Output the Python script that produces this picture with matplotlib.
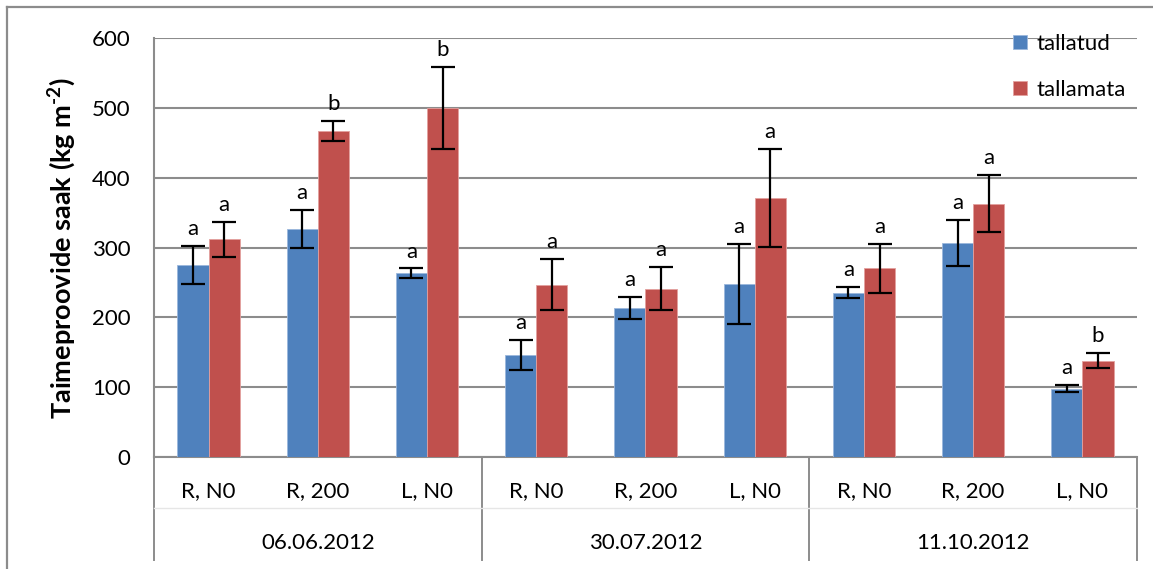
import matplotlib
matplotlib.use("Agg")
import matplotlib.pyplot as plt
import numpy as np
from matplotlib.transforms import blended_transform_factory
from matplotlib.lines import Line2D

plt.rcParams['font.family'] = ['Lato', 'DejaVu Sans']
plt.rcParams['mathtext.fontset'] = 'custom'
plt.rcParams['mathtext.rm'] = 'Lato'
plt.rcParams['mathtext.bf'] = 'Lato:bold'

dates = ["06.06.2012", "30.07.2012", "11.10.2012"]
treatments = ["R, N0", "R, 200", "L, N0"]
series_names = ["tallatud", "tallamata"]

tallatud = [275, 327, 263, 146, 213, 248, 235, 306, 98]
tallatud_err = [27, 27, 7, 22, 16, 57, 8, 33, 5]
tallatud_sig = ["a", "a", "a", "a", "a", "a", "a", "a", "a"]

tallamata = [312, 467, 500, 247, 241, 371, 270, 363, 138]
tallamata_err = [25, 14, 59, 37, 31, 70, 35, 41, 11]
tallamata_sig = ["a", "b", "b", "a", "a", "a", "a", "a", "b"]

yticks = [0, 100, 200, 300, 400, 500, 600]

blue = "#4F81BD"
red = "#C0504D"
grid_c = "#8C8C8C"

W, H = 1153, 569
fig = plt.figure(figsize=(W/100, H/100), dpi=100)
ax = fig.add_axes([154/W, 1 - 457/H, (1137 - 154)/W, (457 - 38)/H])

# outer chart border (left and top visible)
fig.add_artist(Line2D([7/W, 7/W], [0, 1 - 7/H], transform=fig.transFigure,
                      color=grid_c, linewidth=1.6))
fig.add_artist(Line2D([7/W, 1], [1 - 7/H, 1 - 7/H], transform=fig.transFigure,
                      color=grid_c, linewidth=1.6))

n = len(tallatud)
x = np.arange(n)
w = 0.285

ax.bar(x - w/2, tallatud, w, color=blue, edgecolor="#9BB7DC", linewidth=0.6,
       label=series_names[0], zorder=3)
ax.bar(x + w/2, tallamata, w, color=red, edgecolor="#E3A09E", linewidth=0.6,
       label=series_names[1], zorder=3)
ax.errorbar(x - w/2, tallatud, yerr=tallatud_err, fmt="none", ecolor="black",
            elinewidth=1.6, capsize=8.5, capthick=1.6, zorder=4)
ax.errorbar(x + w/2, tallamata, yerr=tallamata_err, fmt="none", ecolor="black",
            elinewidth=1.6, capsize=8.5, capthick=1.6, zorder=4)

for xi, v, e, s in zip(x - w/2, tallatud, tallatud_err, tallatud_sig):
    ax.annotate(s, (xi, v + e), xytext=(0, 5), textcoords="offset points",
                ha="center", va="bottom", fontsize=16)
for xi, v, e, s in zip(x + w/2, tallamata, tallamata_err, tallamata_sig):
    ax.annotate(s, (xi, v + e), xytext=(0, 5), textcoords="offset points",
                ha="center", va="bottom", fontsize=16)

ax.set_xlim(-0.5, n - 0.5)
ax.set_ylim(0, 600)
ax.set_yticks(yticks)
ax.set_yticklabels([str(t) for t in yticks], fontsize=16)
ax.tick_params(axis="y", length=0, pad=17)
ax.set_xticks([])
ax.yaxis.grid(True, color=grid_c, linewidth=1.5, zorder=0)
ax.set_axisbelow(True)
for side in ["top", "right"]:
    ax.spines[side].set_visible(False)
ax.spines["left"].set_color(grid_c)
ax.spines["left"].set_linewidth(1.5)
ax.spines["bottom"].set_color(grid_c)
ax.spines["bottom"].set_linewidth(1.5)

ax.set_ylabel("Taimeproovide saak (kg m$^{\\mathbf{\u2010}\\mathbf{2}}$)", fontsize=19.5,
              fontweight="bold", labelpad=10)

# multi-level category axis
trans = blended_transform_factory(ax.transData, ax.transAxes)
y_sub = -0.081
y_line = -0.122
y_grp = -0.205
y_bottom = -0.246
for i in range(n):
    ax.text(i, y_sub, treatments[i % 3], transform=trans, ha="center", va="center",
            fontsize=16)
for g, d in enumerate(dates):
    ax.text(g * 3 + 1, y_grp, d, transform=trans, ha="center", va="center", fontsize=16)
for b in [-0.5, 2.5, 5.5, 8.5]:
    ax.add_line(Line2D([b, b], [0, y_bottom], transform=trans, color=grid_c,
                       linewidth=1.4, clip_on=False))
ax.add_line(Line2D([-0.5, n - 0.5], [y_line, y_line], transform=trans, color="#E6E6E6",
                   linewidth=1.0, clip_on=False))

handles, labels = ax.get_legend_handles_labels()
leg = fig.legend(handles, labels, loc="upper left", bbox_to_anchor=(1013/W, 1 - 34/H),
                 frameon=False, fontsize=16, handlelength=0.62, handleheight=0.62,
                 labelspacing=1.15, handletextpad=0.45, borderpad=0, borderaxespad=0)

fig.savefig("out.png", dpi=100)
